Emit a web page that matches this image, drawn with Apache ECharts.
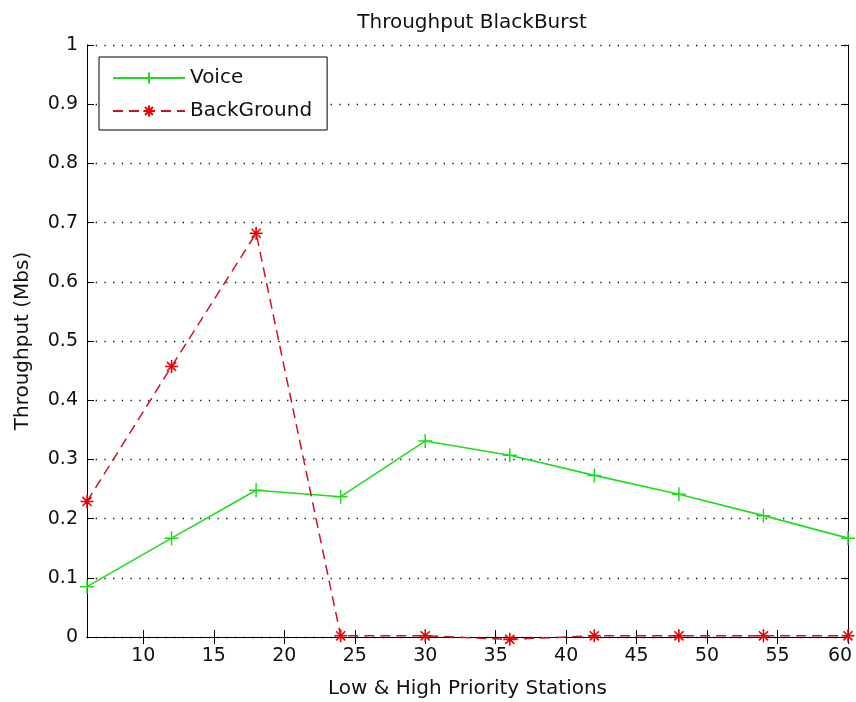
<!DOCTYPE html>
<html>
<head>
<meta charset="utf-8">
<script src="https://cdn.jsdelivr.net/npm/echarts@6/dist/echarts.min.js"></script>
<style>
  html, body { margin: 0; padding: 0; background: #fff; }
  #chart { width: 856px; height: 702px; }
</style>
</head>
<body>
<div id="chart"></div>
<script>
// Number of low & high priority stations
const stations = [6, 12, 18, 24, 30, 36, 42, 48, 54, 60];
// Throughput per traffic class (Mbs)
const voice = [0.085, 0.167, 0.248, 0.237, 0.331, 0.307, 0.273, 0.241, 0.205, 0.167];
const background = [0.229, 0.457, 0.682, 0.002, 0.002, -0.004, 0.002, 0.002, 0.002, 0.002];
// Axis ticks
const xTicks = [10, 15, 20, 25, 30, 35, 40, 45, 50, 55, 60];
const yTicks = [0, 0.1, 0.2, 0.3, 0.4, 0.5, 0.6, 0.7, 0.8, 0.9, 1];

const FONT = 'DejaVu Sans';
const plusSymbol = 'path://M0,-1L0,1M-1,0L1,0';
const starSymbol = 'path://M0,-1L0,1M-1,0L1,0M-0.7,-0.7L0.7,0.7M-0.7,0.7L0.7,-0.7';

const pairs = (ys) => stations.map((x, i) => [x, ys[i]]);
const fmtY = (v) => {
  const r = Math.round(v * 10) / 10;
  return r === 0 ? '0' : r === 1 ? '1' : r.toFixed(1);
};
// keep the last x label inside the canvas
const fmtX = (v) => v === xTicks[xTicks.length - 1] ? '{last|' + v + '}' : String(v);

const frameAxis = {
  axisLine: { show: true, lineStyle: { color: '#000', width: 1 } },
  axisTick: { show: true, inside: true, length: 7, lineStyle: { color: '#000' } }
};

const chart = echarts.init(document.getElementById('chart'), null, { renderer: 'canvas' });
chart.setOption({
  animation: false,
  backgroundColor: '#fff',
  textStyle: { fontFamily: FONT },
  title: {
    text: 'Throughput BlackBurst',
    left: 467,
    textAlign: 'center',
    top: 8,
    textStyle: { fontFamily: FONT, fontSize: 20, fontWeight: 'normal', color: '#111' }
  },
  legend: {
    orient: 'vertical',
    left: 99,
    top: 57,
    padding: [11, 15, 9, 13],
    itemWidth: 72,
    itemHeight: 14,
    itemGap: 13,
    backgroundColor: '#fff',
    borderColor: '#000',
    borderWidth: 1,
    borderRadius: 0,
    textStyle: { fontFamily: FONT, fontSize: 20, color: '#111' },
    data: ['Voice', 'BackGround']
  },
  grid: { left: 87, right: 8, top: 45, bottom: 65, containLabel: false, outerBoundsMode: 'none' },
  xAxis: [
    Object.assign({
      type: 'value', min: 6, max: 60, position: 'bottom',
      name: 'Low & High Priority Stations',
      nameLocation: 'middle',
      nameGap: 42,
      nameTextStyle: { fontFamily: FONT, fontSize: 20, color: '#111' },
      axisLabel: {
        customValues: xTicks, margin: 10, fontFamily: FONT, fontSize: 19, color: '#111',
        formatter: fmtX,
        rich: { last: { fontFamily: FONT, fontSize: 19, color: '#111', padding: [0, 16, 0, 0] } }
      },
      splitLine: { show: false }
    }, frameAxis, { axisTick: Object.assign({}, frameAxis.axisTick, { customValues: xTicks }) }),
    Object.assign({
      type: 'value', min: 6, max: 60, position: 'top',
      axisLabel: { show: false },
      splitLine: { show: false }
    }, frameAxis, { axisTick: Object.assign({}, frameAxis.axisTick, { customValues: xTicks }) })
  ],
  yAxis: [
    Object.assign({
      type: 'value', min: 0, max: 1, interval: 0.1, position: 'left',
      name: 'Throughput (Mbs)',
      nameLocation: 'middle',
      nameGap: 54,
      nameRotate: 90,
      nameTextStyle: { fontFamily: FONT, fontSize: 20, color: '#111' },
      axisLabel: { margin: 9, fontFamily: FONT, fontSize: 19, color: '#111', formatter: fmtY },
      splitLine: { show: true, lineStyle: { color: '#111', width: 1.3, type: [1.3, 7.4] } }
    }, frameAxis),
    Object.assign({
      type: 'value', min: 0, max: 1, interval: 0.1, position: 'right',
      axisLabel: { show: false },
      splitLine: { show: false }
    }, frameAxis)
  ],
  series: [
    {
      name: 'Voice',
      type: 'line',
      data: pairs(voice),
      symbol: plusSymbol,
      symbolSize: 14,
      showAllSymbol: true,
      clip: false,
      lineStyle: { color: '#1fdc1f', width: 1.6 },
      itemStyle: { color: '#1fdc1f', borderColor: '#1fdc1f', borderWidth: 1.5 },
      z: 3
    },
    {
      name: 'BackGround',
      type: 'line',
      data: pairs(background),
      symbol: starSymbol,
      symbolSize: 13,
      showAllSymbol: true,
      clip: false,
      lineStyle: { color: '#d3102a', width: 1.5, type: [10, 6] },
      itemStyle: { color: '#ee0000', borderColor: '#ee0000', borderWidth: 1.6 },
      z: 4
    }
  ]
});
</script>
</body>
</html>
